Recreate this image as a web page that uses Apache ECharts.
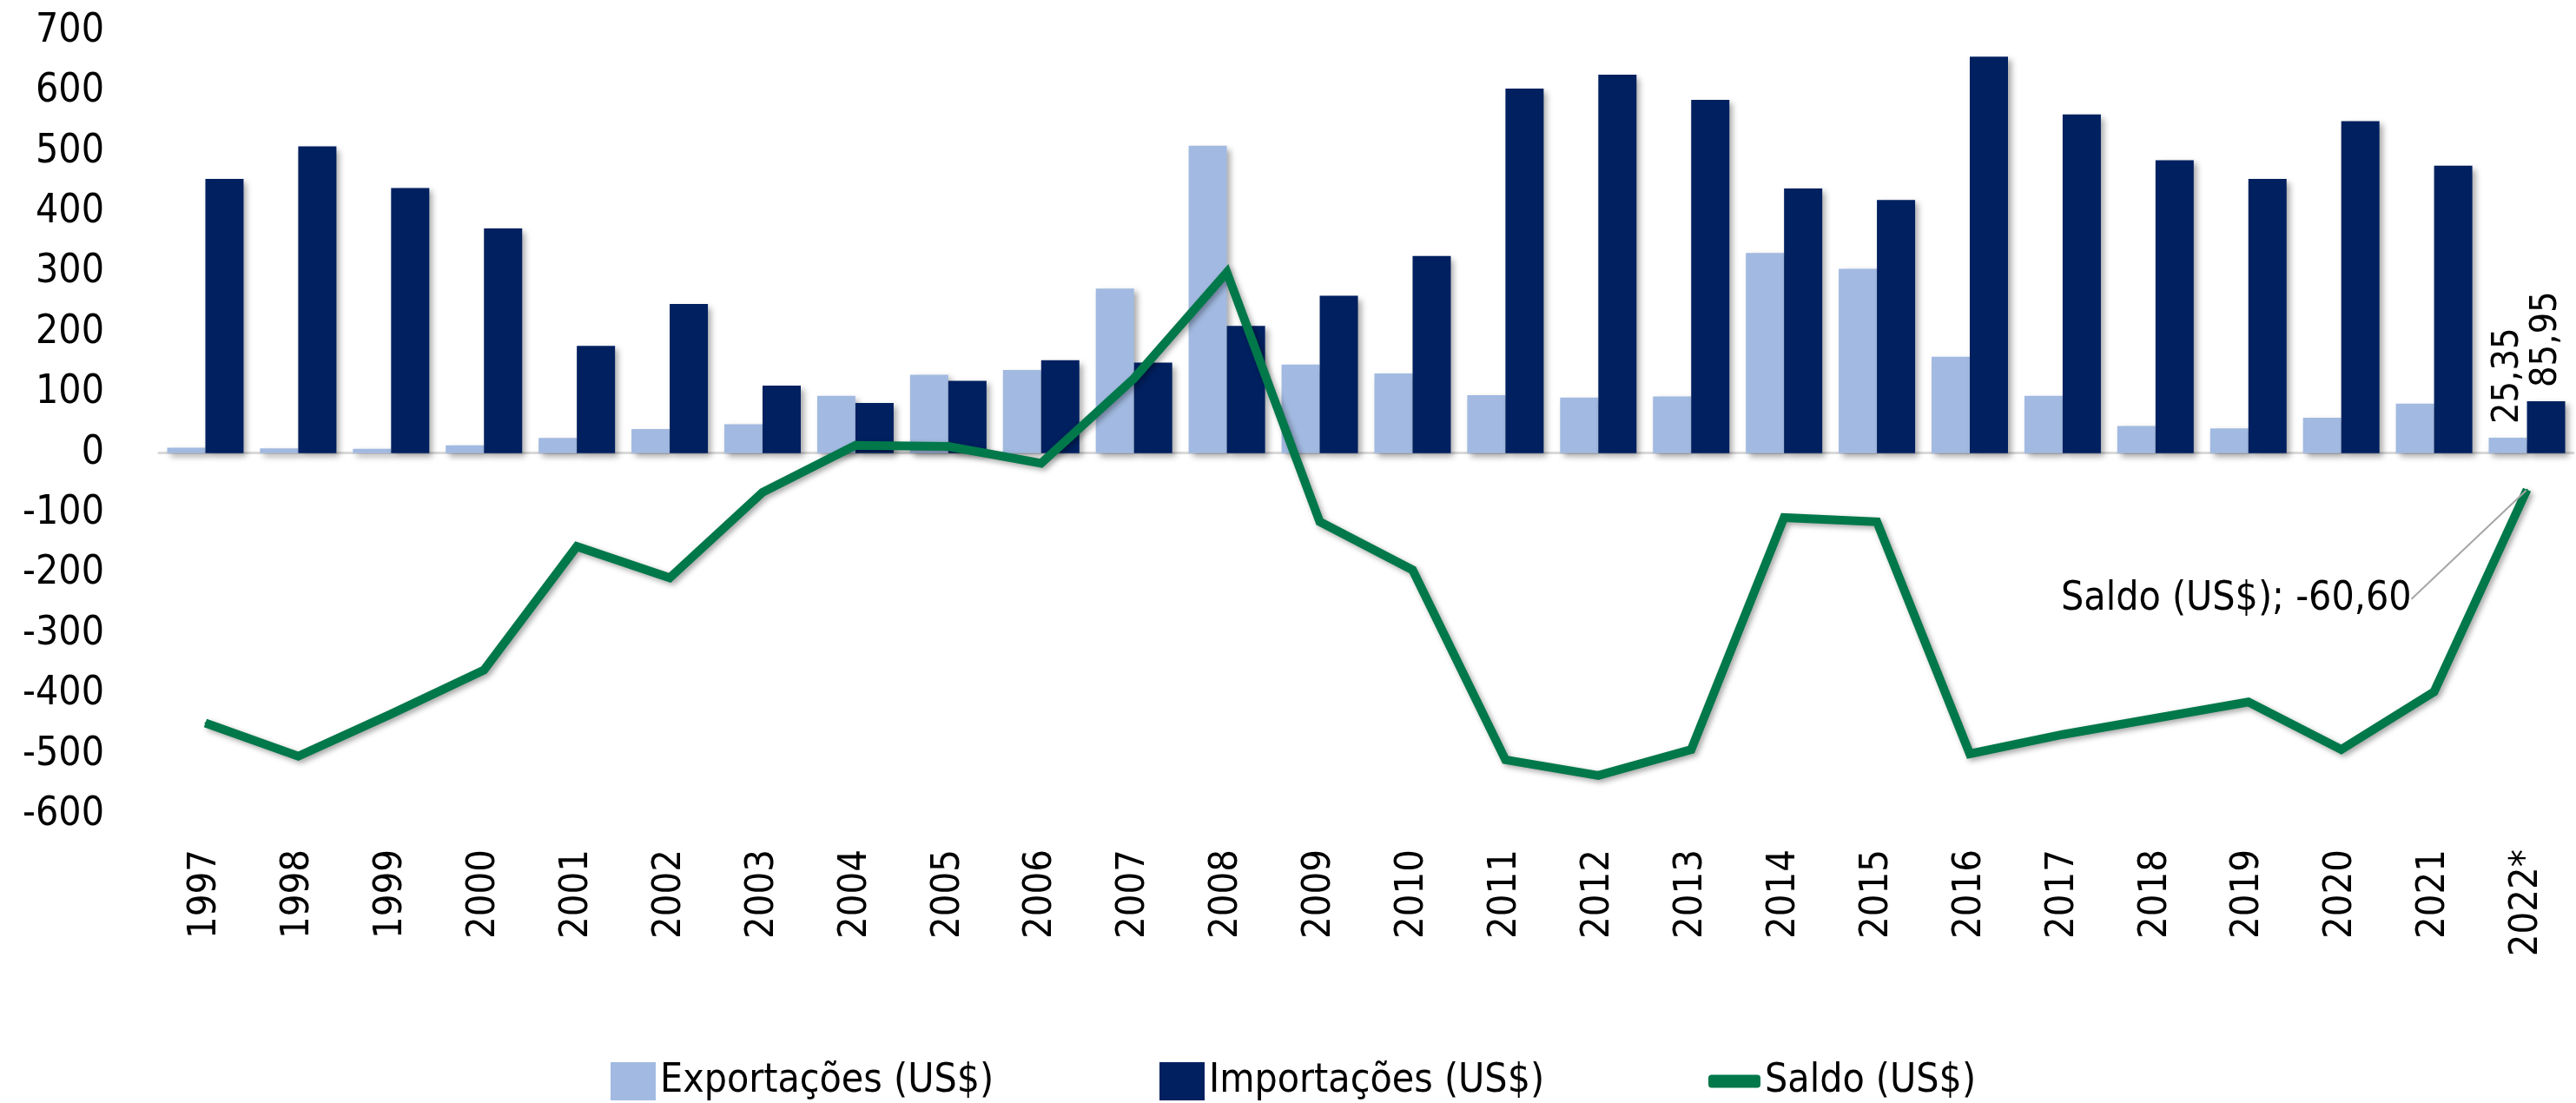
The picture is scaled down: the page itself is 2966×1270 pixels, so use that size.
<!DOCTYPE html>
<html>
<head>
<meta charset="utf-8">
<script src="https://cdn.jsdelivr.net/npm/echarts@6/dist/echarts.min.js"></script>
<style>
  html, body { margin: 0; padding: 0; background: #fff; }
  #chart { width: 2966px; height: 1270px; }
</style>
</head>
<body>
<div id="chart"></div>
<script>
const anos = ['1997', '1998', '1999', '2000', '2001', '2002', '2003', '2004', '2005', '2006', '2007', '2008', '2009',
  '2010', '2011', '2012', '2013', '2014', '2015', '2016', '2017', '2018', '2019', '2020', '2021', '2022*'];
const exportacoes = [9, 8, 7, 13, 25, 40, 48, 95, 130, 138, 273, 510, 147, 132, 96, 92, 94, 332, 306, 160, 95, 45, 41, 58.5, 82, 25.35];
const importacoes = [455, 509, 440, 373, 178, 247.5, 112, 83, 120, 154, 150, 211, 261, 327, 605, 628, 586, 439, 420, 658, 562, 486, 455, 551, 477, 85.95];
const saldo = [-448, -503, -433, -360, -155, -207, -65, 13, 11, -17, 124, 300, -114, -194, -509, -535, -492, -107, -114, -499, -467, -440, -413, -492, -396, -60.60];

const nomes = ['Exportações (US$)', 'Importações (US$)', 'Saldo (US$)'];
const cores = ['#A2BAE1', '#002060', '#00784A'];
const fonteEixo = 'DejaVu Sans Condensed, Liberation Sans Narrow, sans-serif';
const ultimo = anos.length - 1;

function virgula(v) {
  return v.toFixed(2).replace('.', ',');
}

const rotuloBarra = {
  show: true,
  position: 'top',
  rotate: 90,
  align: 'left',
  verticalAlign: 'middle',
  distance: 16,
  fontFamily: fonteEixo,
  fontSize: 43,
  color: '#000',
  formatter: (p) => virgula(p.value)
};

function dadosBarra(arr) {
  return arr.map((v, i) => i === ultimo ? { value: v, label: rotuloBarra } : v);
}

const sombraBarra = {
  shadowColor: 'rgba(0,0,0,0.35)',
  shadowBlur: 7,
  shadowOffsetX: 4,
  shadowOffsetY: 4
};

const chart = echarts.init(document.getElementById('chart'));

chart.setOption({
  animation: false,
  color: cores,
  grid: { left: 183, right: 3, top: 36, bottom: 332, containLabel: false },
  legend: [
    {
      data: [nomes[0]], left: 698, top: 1217,
      itemWidth: 52, itemHeight: 44, icon: 'rect',
      textStyle: { fontFamily: fonteEixo, fontSize: 46, color: '#000' }
    },
    {
      data: [nomes[1]], left: 1330, top: 1217,
      itemWidth: 52, itemHeight: 44, icon: 'rect',
      textStyle: { fontFamily: fonteEixo, fontSize: 46, color: '#000' }
    },
    {
      data: [nomes[2]], left: 1962, top: 1217,
      itemWidth: 60, itemHeight: 15, icon: 'roundRect',
      textStyle: { fontFamily: fonteEixo, fontSize: 46, color: '#000' }
    }
  ],
  xAxis: [
    {
      type: 'category',
      data: anos,
      position: 'bottom',
      axisLine: { show: false, onZero: false },
      axisTick: { show: false },
      axisLabel: {
        rotate: 90,
        margin: 40,
        interval: 0,
        fontFamily: fonteEixo,
        fontSize: 45,
        color: '#000'
      }
    },
    {
      type: 'category',
      data: anos,
      position: 'bottom',
      axisLine: {
        show: true,
        onZero: true,
        lineStyle: { color: '#d9d9d9', width: 3 }
      },
      axisTick: { show: false },
      axisLabel: { show: false }
    }
  ],
  yAxis: {
    type: 'value',
    min: -600,
    max: 700,
    interval: 100,
    axisLine: { show: false },
    axisTick: { show: false },
    splitLine: { show: false },
    axisLabel: {
      margin: 63,
      fontFamily: fonteEixo,
      fontSize: 46,
      color: '#000'
    }
  },
  series: [
    {
      name: nomes[0],
      type: 'bar',
      barWidth: 44,
      barGap: '0%',
      itemStyle: Object.assign({ color: cores[0] }, sombraBarra),
      data: dadosBarra(exportacoes)
    },
    {
      name: nomes[1],
      type: 'bar',
      barWidth: 44,
      barGap: '0%',
      itemStyle: Object.assign({ color: cores[1] }, sombraBarra),
      data: dadosBarra(importacoes)
    },
    {
      name: nomes[2],
      type: 'line',
      symbol: 'circle',
      symbolSize: 2,
      itemStyle: { color: cores[2] },
      lineStyle: {
        width: 10,
        color: cores[2],
        join: 'miter',
        shadowColor: 'rgba(0,0,0,0.35)',
        shadowBlur: 6,
        shadowOffsetX: 3,
        shadowOffsetY: 3
      },
      data: saldo.map((v, i) => i === ultimo ? {
        value: v,
        label: {
          show: true,
          position: 'left',
          distance: 5,
          fontFamily: fonteEixo,
          fontSize: 46,
          color: '#000',
          formatter: (p) => 'Saldo (US$); ' + virgula(p.value)
        },
        labelLine: { show: true, lineStyle: { color: '#a6a6a6', width: 2 } }
      } : v),
      labelLayout: { dx: -127, dy: 126 },
      z: 5
    }
  ]
});
</script>
</body>
</html>
